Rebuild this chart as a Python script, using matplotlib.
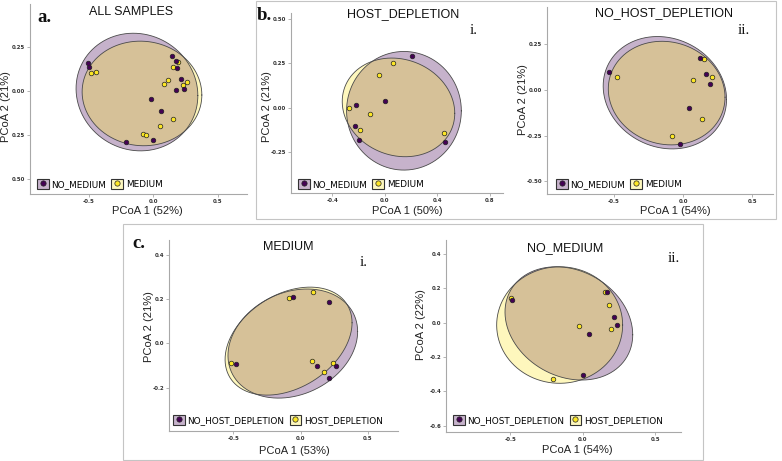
import numpy as np
import matplotlib.pyplot as plt
from matplotlib.patches import Rectangle, Patch
from matplotlib.lines import Line2D

W, H = 782, 461
PURPLE = '#440154'
YELLOW = '#FDE725'

# ---- data ----
# a. ALL SAMPLES
a_nomed_x = [-0.509, -0.496, 0.145, 0.171, 0.183, 0.212, 0.178, 0.233, -0.021, 0.062, 0.0, -0.212]
a_nomed_y = [0.158, 0.139, 0.198, 0.173, 0.130, 0.066, 0.008, 0.009, -0.045, -0.113, -0.277, -0.292]
a_med_x = [-0.481, -0.447, 0.194, 0.150, 0.116, 0.080, 0.230, 0.261, 0.155, 0.047, -0.083, -0.057]
a_med_y = [0.104, 0.106, 0.164, 0.136, 0.060, 0.040, 0.032, 0.049, -0.160, -0.196, -0.245, -0.251]
# ellipses: centre x, centre y, half width, half height, correlation
a_nomed_ell = [-0.128, -0.006, 0.472, 0.334, -0.06]
a_med_ell = [-0.089, -0.014, 0.464, 0.297, -0.03]

# b.i HOST_DEPLETION
bi_nomed_x = [0.208, 0.003, -0.223, -0.230, -0.197, 0.461]
bi_nomed_y = [0.289, 0.036, 0.015, -0.105, -0.182, -0.195]
bi_med_x = [0.066, -0.048, -0.271, -0.116, -0.187, 0.448]
bi_med_y = [0.250, 0.184, -0.002, -0.038, -0.128, -0.143]
bi_nomed_ell = [0.1455, -0.018, 0.4365, 0.333, 0.0]
bi_med_ell = [0.104, 0.001, 0.428, 0.277, -0.12]

# b.ii NO_HOST_DEPLETION
bii_nomed_x = [-0.535, 0.123, 0.164, 0.190, 0.041, -0.024]
bii_nomed_y = [0.098, 0.177, 0.086, 0.031, -0.097, -0.293]
bii_med_x = [-0.480, 0.147, 0.072, 0.210, 0.135, -0.084]
bii_med_y = [0.073, 0.169, 0.056, 0.071, -0.157, -0.250]
bii_nomed_ell = [-0.133, -0.015, 0.446, 0.307, -0.12]
bii_med_ell = [-0.120, -0.017, 0.422, 0.283, -0.08]

# c.i MEDIUM
ci_nohost_x = [-0.059, 0.208, -0.478, 0.119, 0.265, 0.213]
ci_nohost_y = [0.211, 0.186, -0.093, -0.101, -0.101, -0.158]
ci_host_x = [-0.087, 0.089, -0.520, 0.082, 0.238, 0.173]
ci_host_y = [0.205, 0.232, -0.090, -0.081, -0.087, -0.131]
ci_nohost_ell = [-0.0585, -0.001, 0.4815, 0.246, 0.22]
ci_host_ell = [-0.090, 0.010, 0.4715, 0.2435, 0.34]

# c.ii NO_MEDIUM
cii_nohost_x = [-0.487, 0.166, 0.218, 0.237, 0.041, 0.002]
cii_nohost_y = [0.132, 0.177, 0.031, -0.016, -0.068, -0.305]
cii_host_x = [-0.497, 0.154, 0.182, -0.025, 0.193, -0.205]
cii_host_y = [0.146, 0.179, 0.105, -0.017, -0.037, -0.330]
cii_nohost_ell = [-0.0955, -0.004, 0.4405, 0.330, -0.2]
cii_host_ell = [-0.159, -0.0135, 0.4345, 0.3395, 0.0]


def px_axes(l, r, b, t):
    return [l / W, 1 - b / H, (r - l) / W, (b - t) / H]


def fx(x):
    return x / W


def fy(y):
    return 1 - y / H


def draw_ellipse(ax, ell, color):
    cx, cy, hx, hy, r = ell
    t = np.linspace(0, 2 * np.pi, 300)
    ex = cx + hx * np.cos(t)
    ey = cy + hy * (r * np.cos(t) + np.sqrt(1 - r ** 2) * np.sin(t))
    ax.fill(ex, ey, facecolor=color, alpha=0.3, edgecolor='none', zorder=1)
    ax.plot(ex, ey, color='#4a4a4a', lw=0.6, zorder=2)


def setup_axes(ax, xlim, ylim, xticks, xlabels, yticks, ylabels):
    ax.set_xlim(xlim)
    ax.set_ylim(ylim)
    ax.set_xticks(xticks)
    ax.set_xticklabels(xlabels)
    ax.set_yticks(yticks)
    ax.set_yticklabels(ylabels)
    for s in ['top', 'right']:
        ax.spines[s].set_visible(False)
    for s in ['left', 'bottom']:
        ax.spines[s].set_color('#a8a8a8')
        ax.spines[s].set_linewidth(0.8)
    ax.tick_params(length=2, width=0.6, color='#a8a8a8', pad=1.5,
                   labelsize=3.9, labelcolor='#333333')
    for lab in ax.get_xticklabels() + ax.get_yticklabels():
        lab.set_fontweight('bold')


def add_legend(ax, labels, x_px, y_px):
    handles = [
        (Patch(facecolor='#c7b3cc', edgecolor='#333333', lw=0.8),
         Line2D([], [], marker='o', ls='', markersize=3.8,
                markerfacecolor=PURPLE, markeredgecolor='#222222', markeredgewidth=0.5)),
        (Patch(facecolor='#fef8be', edgecolor='#333333', lw=0.8),
         Line2D([], [], marker='o', ls='', markersize=3.8,
                markerfacecolor=YELLOW, markeredgecolor='#222222', markeredgewidth=0.5)),
    ]
    ax.legend(handles, labels, loc='lower left',
              bbox_to_anchor=(fx(x_px), fy(y_px)), bbox_transform=fig.transFigure,
              ncol=2, frameon=False, fontsize=6.4, handlelength=1.3, handleheight=1.3,
              handletextpad=0.3, columnspacing=0.6, borderpad=0, borderaxespad=0)


def panel(pos, xlim, ylim, xticks, xlabels, yticks, ylabels,
          g1x, g1y, g1ell, g2x, g2y, g2ell, labels, leg_xy):
    ax = fig.add_axes(px_axes(*pos))
    draw_ellipse(ax, g1ell, PURPLE)
    draw_ellipse(ax, g2ell, YELLOW)
    ax.scatter(g2x, g2y, s=11, c=YELLOW, edgecolors='#222222', linewidths=0.5, zorder=3)
    ax.scatter(g1x, g1y, s=11, c=PURPLE, edgecolors='#222222', linewidths=0.5, zorder=4)
    setup_axes(ax, xlim, ylim, xticks, xlabels, yticks, ylabels)
    add_legend(ax, labels, *leg_xy)
    return ax


fig = plt.figure(figsize=(7.82, 4.61), dpi=100)

# frames around b and c
fig.add_artist(Rectangle((fx(256), fy(219)), fx(776) - fx(256), fy(1) - fy(219),
                         transform=fig.transFigure, fill=False, ec='#c4c4c4', lw=0.8))
fig.add_artist(Rectangle((fx(123), fy(460)), fx(703) - fx(123), fy(224) - fy(460),
                         transform=fig.transFigure, fill=False, ec='#c4c4c4', lw=0.8))

med_labels = ['NO_MEDIUM', 'MEDIUM']
host_labels = ['NO_HOST_DEPLETION', 'HOST_DEPLETION']

# a.
panel((30, 247, 194, 4), (-0.957, 0.725), (-0.585, 0.494),
      [-0.5, 0.0, 0.5], ['-0.5', '0.0', '0.5'],
      [0.25, 0.0, -0.25, -0.5], ['0.25', '0.00', '0.25', '0.50'],
      a_nomed_x, a_nomed_y, a_nomed_ell, a_med_x, a_med_y, a_med_ell,
      med_labels, (37, 189))
# b.i
panel((290.7, 503, 192.7, 13), (-0.716, 0.899), (-0.478, 0.531),
      [-0.4, 0.0, 0.4, 0.8], ['-0.4', '0.0', '0.4', '0.8'],
      [0.5, 0.25, 0.0, -0.25], ['0.50', '0.25', '0.00', '-0.25'],
      bi_nomed_x, bi_nomed_y, bi_nomed_ell, bi_med_x, bi_med_y, bi_med_ell,
      med_labels, (298, 189))
# b.ii
panel((547.3, 773.3, 194.3, 6.7), (-0.983, 0.651), (-0.570, 0.455),
      [-0.5, 0.0, 0.5], ['-0.5', '0.0', '0.5'],
      [0.25, 0.0, -0.25, -0.5], ['0.25', '0.00', '-0.25', '-0.50'],
      bii_nomed_x, bii_nomed_y, bii_nomed_ell, bii_med_x, bii_med_y, bii_med_ell,
      med_labels, (556, 189))
# c.i
panel((169, 398.3, 430.7, 240), (-0.978, 0.725), (-0.394, 0.466),
      [-0.5, 0.0, 0.5], ['-0.5', '0.0', '0.5'],
      [0.4, 0.2, 0.0, -0.2], ['0.4', '0.2', '0.0', '-0.2'],
      ci_nohost_x, ci_nohost_y, ci_nohost_ell, ci_host_x, ci_host_y, ci_host_ell,
      host_labels, (173, 425))
# c.ii
panel((446, 681, 431.7, 240), (-0.943, 0.678), (-0.635, 0.482),
      [-0.5, 0.0, 0.5], ['-0.5', '0.0', '0.5'],
      [0.4, 0.2, 0.0, -0.2, -0.4, -0.6], ['0.4', '0.2', '0.0', '-0.2', '-0.4', '-0.6'],
      cii_nohost_x, cii_nohost_y, cii_nohost_ell, cii_host_x, cii_host_y, cii_host_ell,
      host_labels, (453, 425))

# titles
sans = 'Liberation Sans'
for txt, x, y in [('ALL SAMPLES', 131, 12), ('HOST_DEPLETION', 402.7, 14),
                  ('NO_HOST_DEPLETION', 664, 13), ('MEDIUM', 288, 247),
                  ('NO_MEDIUM', 565, 248)]:
    fig.text(fx(x), fy(y), txt, ha='center', va='center', fontsize=9,
             family=sans, color='#111111')

# axis labels
for txt, x, y in [('PCoA 1 (52%)', 147.7, 211), ('PCoA 1 (50%)', 407.3, 210.7),
                  ('PCoA 1 (54%)', 675, 210.7), ('PCoA 1 (53%)', 294, 451),
                  ('PCoA 1 (54%)', 577.3, 450)]:
    fig.text(fx(x), fy(y), txt, ha='center', va='center', fontsize=8, family=sans,
             color='#222222')
for txt, x, y in [('PCoA 2 (21%)', 6, 107), ('PCoA 2 (21%)', 267.5, 106.7),
                  ('PCoA 2 (21%)', 523, 100), ('PCoA 2 (21%)', 148.5, 326.7),
                  ('PCoA 2 (22%)', 421.5, 325)]:
    fig.text(fx(x), fy(y), txt, ha='center', va='center', fontsize=8, family=sans,
             color='#222222', rotation=90)

# panel letters
serif = 'Liberation Serif'
for txt, x, y in [('a.', 37, 18), ('b.', 257, 15), ('c.', 132, 243)]:
    fig.text(fx(x), fy(y), txt, ha='left', va='center', fontsize=13.5,
             family=serif, weight='bold', color='#111111')
for txt, x, y in [('i.', 474, 31), ('ii.', 744, 31), ('i.', 363.5, 262), ('ii.', 674, 258)]:
    fig.text(fx(x), fy(y), txt, ha='center', va='center', fontsize=11,
             family=serif, color='#111111')

fig.savefig('out.png', dpi=100)
